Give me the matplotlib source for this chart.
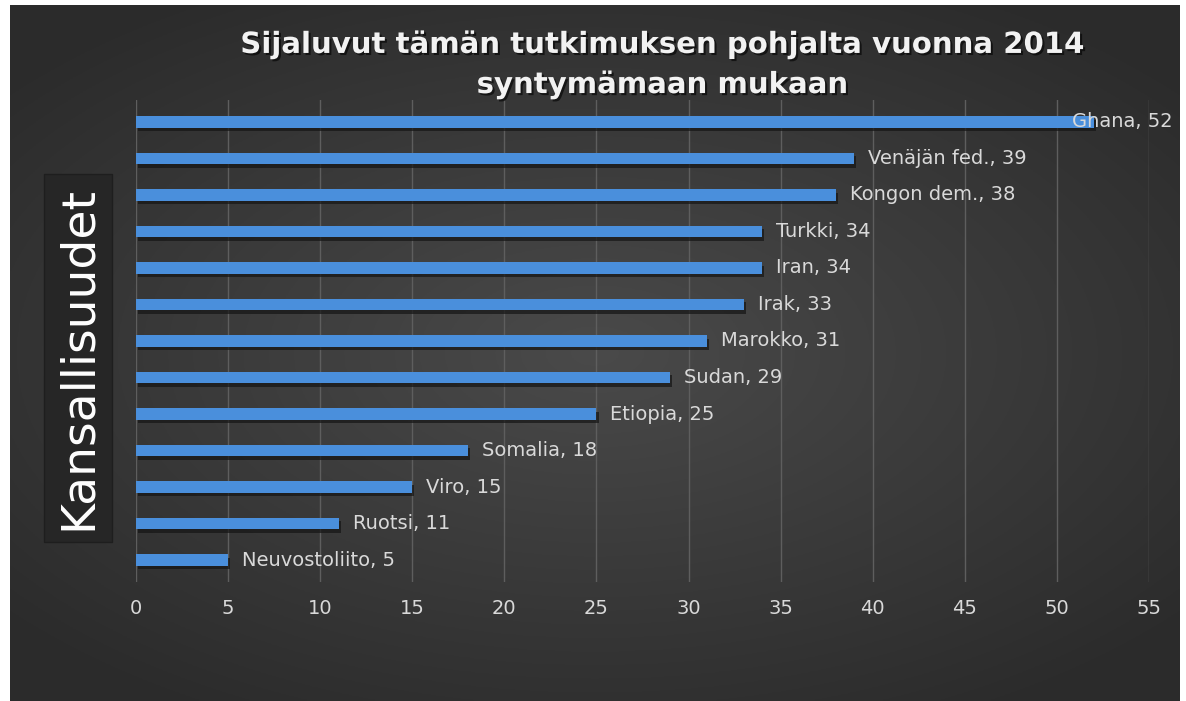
import numpy as np
import matplotlib
matplotlib.use("Agg")
import matplotlib.pyplot as plt
import matplotlib.patheffects as pe

# data, top to bottom as in the chart
countries = ["Ghana", "Venäjän fed.", "Kongon dem.", "Turkki", "Iran", "Irak",
             "Marokko", "Sudan", "Etiopia", "Somalia", "Viro", "Ruotsi",
             "Neuvostoliito"]
counts = [52, 39, 38, 34, 34, 33, 31, 29, 25, 18, 15, 11, 5]
x_ticks = [0, 5, 10, 15, 20, 25, 30, 35, 40, 45, 50, 55]

title = "Sijaluvut tämän tutkimuksen pohjalta vuonna 2014\nsyntymämaan mukaan"
ylabel = "Kansallisuudet"

W, H = 1186, 701
fig = plt.figure(figsize=(W / 100, H / 100), dpi=100, facecolor="white")

# dark radial gradient backdrop (leaves thin white border like the screenshot)
bg = fig.add_axes([10 / W, 0, (1180 - 10) / W, (H - 5) / H])
bg.set_axis_off()
yy, xx = np.mgrid[-1:1:300j, -1:1:500j]
r = np.sqrt((xx / 1.1) ** 2 + (yy / 1.0) ** 2)
shade = np.clip(0.29 - 0.10 * r, 0.17, 0.29)
bg.imshow(np.dstack([shade] * 3), aspect="auto", extent=[0, 1, 0, 1])

# plot area
left, right = 136, 1149
top, bottom = 100, 582
ax = fig.add_axes([left / W, 1 - bottom / H, (right - left) / W, (bottom - top) / H])
ax.patch.set_alpha(0)
for s in ax.spines.values():
    s.set_visible(False)

ypos = np.arange(len(countries))[::-1]
ax.barh(ypos, counts, height=0.32, color="#4a8fdc", zorder=3,
        path_effects=[pe.SimplePatchShadow(offset=(1.5, -2.5), shadow_rgbFace="#151515", alpha=0.7),
                      pe.Normal()])

ax.set_xlim(0, 55)
ax.set_ylim(-0.6, len(countries) - 0.4)
ax.set_xticks(x_ticks)
ax.set_yticks([])
ax.tick_params(axis="x", length=0, pad=12, labelsize=14, labelcolor="#d9d9d9")
ax.xaxis.grid(True, color="#5e5e5e", linewidth=1.0, zorder=0)

# value labels; the longest bar gets its label pulled back onto the bar end
for yv, c, v in zip(ypos, countries, counts):
    off = -22 if v == max(counts) else 14
    ax.annotate(f"{c}, {v}", (v, yv), xytext=(off, 0), textcoords="offset pixels",
                va="center", ha="left", fontsize=14, color="#d9d9d9", zorder=4)

fig.text(662 / W, 1 - 65 / H, title, ha="center", va="center", fontsize=21,
         fontweight="bold", color="#f2f2f2", linespacing=1.55,
         path_effects=[pe.withSimplePatchShadow(offset=(1.5, -1.5), shadow_rgbFace="black", alpha=0.6)])

fig.text(78 / W, 1 - 358 / H, ylabel, rotation=90, ha="center", va="center",
         fontsize=34, color="white",
         bbox=dict(boxstyle="square,pad=0.25", facecolor="#262626", edgecolor="#1e1e1e", linewidth=1))

fig.savefig("out.png", dpi=100, facecolor="white")
